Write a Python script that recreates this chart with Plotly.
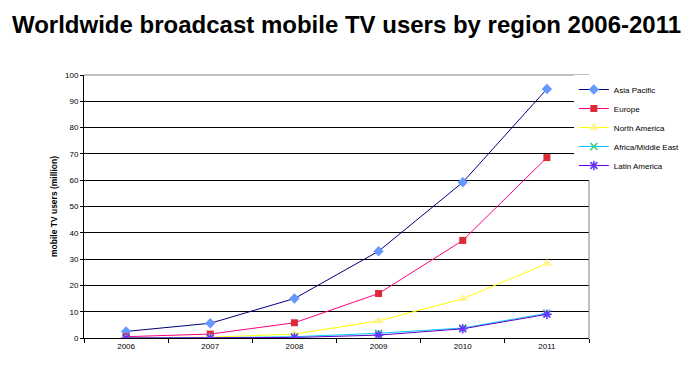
import plotly.graph_objects as go

years = ["2006", "2007", "2008", "2009", "2010", "2011"]
asia_pacific = [2.5, 5.6, 15.0, 33.0, 59.2, 94.7]
europe = [0.5, 1.5, 5.8, 16.9, 37.1, 68.6]
north_america = [0.1, 0.3, 1.5, 6.5, 14.9, 28.3]
africa_middle_east = [0.0, 0.1, 0.5, 1.8, 3.8, 9.4]
latin_america = [0.0, 0.0, 0.2, 1.1, 3.5, 9.0]

series = [
    ("Asia Pacific", asia_pacific, "#000080", "#6699FF", "diamond", 8),
    ("Europe", europe, "#FF0080", "#DD2A35", "square", 7),
    ("North America", north_america, "#FFFF00", "#FFF58F", "triangle-up", 9),
    ("Africa/Middle East", africa_middle_east, "#00CCFF", "#33CC77", "x-thin-open", 7),
    ("Latin America", latin_america, "#6600CC", "#6633FF", "asterisk-open", 8),
]

fig = go.Figure()
for name, vals, lc, mc, sym, ms in series:
    marker = dict(symbol=sym, size=ms, color=mc)
    if sym.endswith("open"):
        marker["line"] = dict(width=1.5, color=mc)
    else:
        marker["line"] = dict(width=0)
    fig.add_trace(go.Scatter(
        x=years, y=vals, name=name, mode="lines+markers",
        line=dict(color=lc, width=1), marker=marker,
    ))

# page body has an 8px margin, so the figure is offset to compensate
fig.update_layout(
    width=693, height=367,
    margin=dict(l=76, r=112, t=66.5, b=37),
    paper_bgcolor="white", plot_bgcolor="white",
    font=dict(family="Liberation Sans, Arial, sans-serif", size=8, color="black"),
    title=dict(
        text="<b>Worldwide broadcast mobile TV users by region 2006-2011</b>",
        x=0.4885, xref="container", xanchor="center", y=0.956, yref="container", yanchor="middle",
        font=dict(size=24, color="black"),
    ),
    showlegend=True,
    legend=dict(
        x=0.970, xanchor="left", y=1.0, yanchor="top",
        bgcolor="white", borderwidth=0,
        font=dict(size=8, color="black"),
        tracegroupgap=0,
    ),
    xaxis=dict(
        type="category", range=[-0.5, len(years) - 0.5],
        showgrid=False, showline=True, linecolor="black", linewidth=1,
        ticks="outside", ticklen=4, tickcolor="black", tickson="boundaries",
        tickfont=dict(size=8), zeroline=False,
    ),
    yaxis=dict(
        range=[0, 100], dtick=10, showgrid=True, gridcolor="black", gridwidth=1,
        showline=True, linecolor="black", linewidth=1,
        ticks="outside", ticklen=3, tickcolor="black", tickfont=dict(size=8),
        zeroline=False,
        title=dict(text="<b>mobile TV users (million)</b>", font=dict(size=8.5), standoff=6),
    ),
    shapes=[
        dict(type="line", xref="x domain", yref="y domain", x0=0, x1=1, y0=1, y1=1,
             line=dict(color="#808080", width=1)),
        dict(type="line", xref="x domain", yref="y domain", x0=1, x1=1, y0=0, y1=1,
             line=dict(color="#808080", width=1)),
    ],
)

fig.write_html("out.html")
